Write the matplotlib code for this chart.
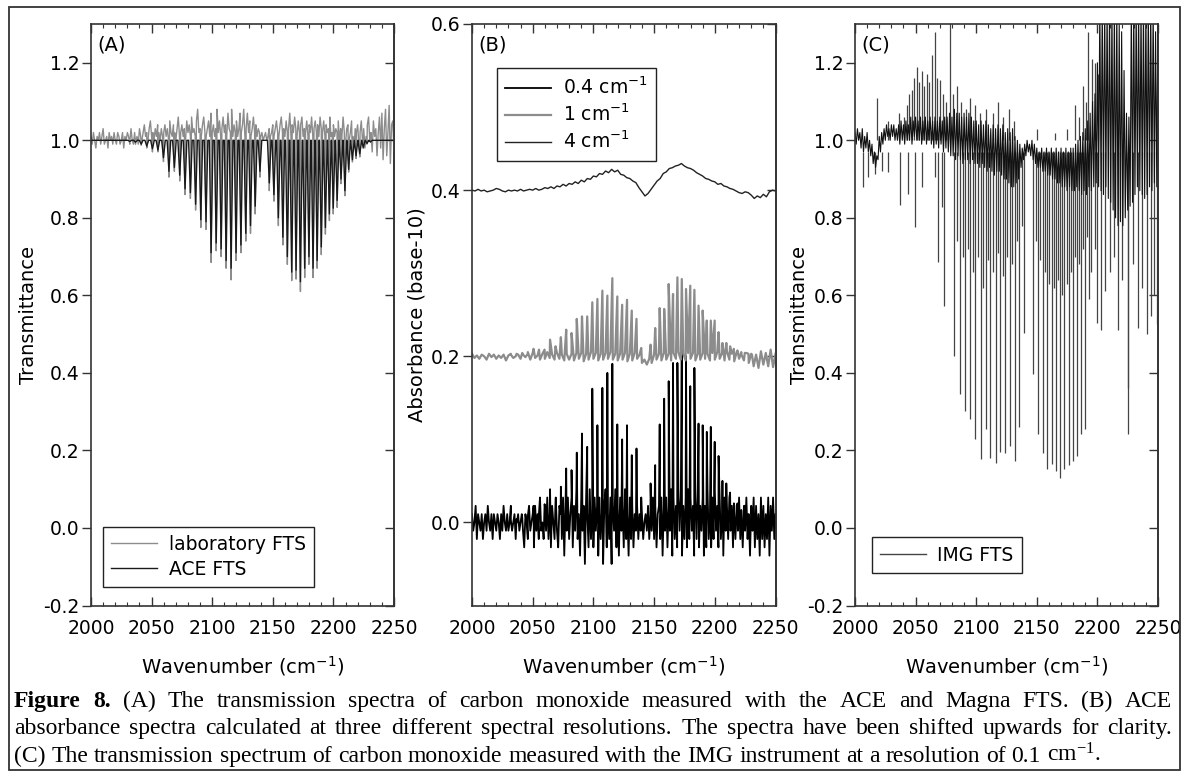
import numpy as np
import matplotlib
matplotlib.use('Agg')
import matplotlib.pyplot as plt
from matplotlib.ticker import MultipleLocator, FormatStrFormatter
from matplotlib.transforms import IdentityTransform
from matplotlib.patches import Rectangle

plt.rcParams['font.family'] = ['DejaVu Sans']
plt.rcParams['axes.unicode_minus'] = False

# CO fundamental band line positions (cm-1), P(1)..P(26) and R(0)..R(25)
p_lines = [2139.4, 2135.5, 2131.6, 2127.7, 2123.7, 2119.7, 2115.6, 2111.5, 2107.4, 2103.3,
           2099.1, 2094.9, 2090.6, 2086.3, 2082.0, 2077.6, 2073.2, 2068.8, 2064.3, 2059.8,
           2055.2, 2050.7, 2046.0, 2041.4, 2036.7, 2032.0]
r_lines = [2147.1, 2150.9, 2154.6, 2158.3, 2162.0, 2165.6, 2169.2, 2172.8, 2176.3, 2179.8,
           2183.2, 2186.6, 2190.0, 2193.4, 2196.7, 2199.9, 2203.1, 2206.3, 2209.5, 2212.6,
           2215.7, 2218.7, 2221.8, 2224.7, 2227.7, 2230.6]

# (A) line minima, laboratory FTS and ACE FTS
lab_p = [0.905, 0.81, 0.76, 0.74, 0.71, 0.69, 0.64, 0.67, 0.70, 0.715, 0.685, 0.77, 0.775,
         0.82, 0.85, 0.86, 0.895, 0.92, 0.905, 0.945, 0.97, 0.97, 0.98, 0.987, 0.99, 0.995]
lab_r = [0.87, 0.843, 0.78, 0.73, 0.68, 0.638, 0.642, 0.61, 0.646, 0.68, 0.646, 0.67, 0.705,
         0.758, 0.793, 0.81, 0.827, 0.888, 0.857, 0.918, 0.944, 0.953, 0.957, 0.979, 0.99, 0.995]
ace_p = [0.92, 0.83, 0.78, 0.76, 0.73, 0.71, 0.67, 0.69, 0.72, 0.735, 0.71, 0.79, 0.795,
         0.835, 0.865, 0.875, 0.91, 0.93, 0.92, 0.955, 0.975, 0.978, 0.985, 0.99, 0.995, 0.997]
ace_r = [0.89, 0.86, 0.80, 0.75, 0.70, 0.66, 0.665, 0.635, 0.67, 0.70, 0.67, 0.69, 0.725,
         0.775, 0.81, 0.825, 0.845, 0.90, 0.87, 0.925, 0.95, 0.96, 0.965, 0.982, 0.992, 0.996]
ace_level = 1.0
# lab FTS baseline, every 1 cm-1 from 2000, in hundredths above 1.0
lab_noise = [1, -1, 2, 0, -2, 1, 0, 2, -1, 1, 3, -1, 0, 1, -2, 2, 0, 1, -1, 2,
             0, -1, 2, 1, -1, 0, 2, -2, 1, 0, 2, 1, -1, 3, 0, -1, 2, 0, 1, -1,
             3, 1, 0, 2, 4, 1, 2, 0, 3, 5, 1, 2, 0, 3, 1, 4, 2, 0, 3, 1,
             2, 4, 1, 3, 0, 5, 2, 1, 4, 2, 0, 3, 6, 1, 2, 4, 1, 3, 0, 5,
             2, 4, 1, 6, 2, 3, 1, 5, 8, 2, 3, 1, 4, 6, 2, 1, 3, 5, 1, 7,
             2, 4, 1, 3, 8, 2, 5, 1, 3, 6, 2, 4, 1, 7, 3, 2, 8, 1, 4, 2,
             5, 1, 3, 7, 2, 4, 8, 1, 3, 7, 2, 5, 1, 3, 6, 2, 4, 1, 3, 2,
             1, 2, 0, 1, 2, 0, 1, 3, 1, 2, 4, 1, 3, 5, 2, 1, 4, 6, 2, 3,
             1, 5, 2, 3, 7, 1, 4, 2, 6, 3, 1, 5, 2, 4, 6, 1, 3, 2, 5, 1,
             4, 2, 6, 1, 3, 5, 2, 4, 1, 6, 3, 2, 5, 1, 4, 2, 3, 6, 1, 2,
             4, 1, 3, 2, 5, 0, 3, 1, 6, 2, -1, 3, 4, 0, 2, 5, 1, -2, 3, 2,
             4, -1, 2, 5, 0, 3, -2, 1, 4, 6, 0, 2, -3, 5, 1, 3, -4, 2, 6, -2,
             7, -5, 3, 8, -4, 2, 9, -6, 4, 5, -3]

# (B) absorbance peaks as plotted (1 cm-1 shifted +0.2)
b04_p = [0.030, 0.089, 0.081, 0.117, 0.100, 0.118, 0.191, 0.180, 0.162, 0.117, 0.161, 0.091, 0.107,
         0.084, 0.063, 0.065, 0.043, 0.025, 0.040, 0.022, 0.012, 0.020, 0.008, 0.006, 0.004, 0.003]
b04_r = [0.047, 0.069, 0.118, 0.149, 0.170, 0.192, 0.192, 0.212, 0.200, 0.164, 0.186, 0.119, 0.117,
         0.109, 0.115, 0.097, 0.080, 0.050, 0.047, 0.036, 0.023, 0.023, 0.015, 0.020, 0.010, 0.008]
b1_p = [0.210, 0.245, 0.255, 0.268, 0.262, 0.272, 0.294, 0.273, 0.279, 0.269, 0.265, 0.248, 0.248,
        0.245, 0.228, 0.232, 0.223, 0.212, 0.220, 0.208, 0.208, 0.209, 0.205, 0.204, 0.203, 0.202]
b1_r = [0.214, 0.234, 0.258, 0.257, 0.287, 0.275, 0.295, 0.293, 0.281, 0.285, 0.280, 0.261, 0.255,
        0.243, 0.243, 0.243, 0.229, 0.216, 0.216, 0.212, 0.209, 0.207, 0.205, 0.204, 0.203, 0.202]
b1_level = 0.2
# 0.4 cm-1 baseline every 1 cm-1, hundredths
b04_noise = [1, -1, 0, 2, -2, 1, 0, -1, 1, -2, 0, 1, -1, 2, 0, -1, 1, -2, 1, 0,
             -1, 1, 0, -2, 1, -1, 2, 0, -1, 1, -1, 0, 2, -1, 0, 1, -2, 0, 1, -1,
             0, 1, -1, -3, 1, 0, -2, 2, -1, 0, 1, -3, 2, -1, 1, -2, 3, -1, 0, -2,
             2, -1, 3, -2, 1, -3, 2, 0, -2, 3, -1, -3, 2, 1, -2, 3, -4, 2, -1, 3,
             -2, 1, 3, -3, 2, -1, 4, -2, 1, -4, 3, -1, 2, -5, 3, 1, -3, 4, -2, 1,
             -3, 3, -1, 2, -4, 3, -2, 1, -5, 2, 4, -3, 1, -2, 3, -5, 2, -1, 4, -3,
             2, -4, 3, -1, 2, -3, 4, -2, 1, -4, 3, -2, 2, -3, 1, -1, 2, -2, 1, -1,
             1, -2, 0, 1, -1, 2, -2, 1, -1, 3, -2, 2, -3, 1, 2, -2, 3, -4, 2, -1,
             3, -3, 2, -1, 4, -4, 3, -2, 2, -3, 4, -1, 3, -4, 2, -2, 3, -3, 4, -2,
             3, -1, 2, -4, 3, -2, 4, -3, 2, -1, 3, -4, 2, -3, 4, -2, 1, -3, 3, -2,
             4, -1, 2, -3, 3, -2, 1, -4, 3, -1, 2, -2, 3, -1, 2, -3, 1, -2, 2, -1,
             3, -2, 1, -3, 2, -1, 3, -2, 1, -4, 2, -1, 3, -3, 2, -2, 1, -4, 3, -2,
             2, -3, 1, -2, 3, -4, 2, -1, 3, -2, 1]
# 1 cm-1 baseline every 2 cm-1, thousandths
b1_noise = [3, -2, 1, -3, 2, 0, -4, 3, -1, 2, -3, 1, -2, 2, -5, 1, 3, -2, 0, 2,
            -3, 2, -1, 3, -4, 4, -2, 1, -4, 3, -3, 5, -2, 2, -4, 4, -3, 2, -5, 3,
            -4, 3, -5, 4, -3, 4, -6, 3, -4, 5, -3, 4, -5, 3, -4, 4, -3, 5, -4, 3,
            -5, 3, -4, 4, -6, 3, -5, 4, -3, 2, -8, -4, -10, -3, -8, 2, -4, 3, -5, 4,
            -4, 3, -5, 4, -3, 5, -4, 3, -5, 4, -3, 4, -5, 3, -4, 4, -3, 3, -5, 4,
            -4, 5, -3, 4, -5, 6, -4, 3, -6, 5, -3, 2, -5, 4, -8, 3, -12, 2, -14, 6,
            -10, 4, -12, 8, -13, 3]
# 4 cm-1 spectrum every 2.5 cm-1, thousandths above 0.4
b4_vals = [0, -1, 1, -1, 0, -2, -1, 0, 2, 1, -1, -2, 0, -1, 0, -1, 1, -1, 0, 1,
           0, 2, 0, 1, 3, 2, 4, 2, 5, 4, 7, 5, 8, 7, 10, 8, 12, 10, 14, 13,
           17, 16, 20, 19, 23, 21, 25, 22, 24, 19, 18, 15, 14, 11, 9, 3, -2, -7, -4, 1,
           6, 11, 14, 20, 22, 26, 27, 29, 30, 32, 29, 27, 26, 24, 21, 19, 17, 14, 13, 11,
           10, 7, 8, 5, 4, 2, 1, -1, -3, -4, -2, -3, -6, -10, -7, -9, -5, -8, -2, 0,
           -1]

# (C) IMG FTS trace extremes every 1 cm-1, hundredths of transmittance
c_trace = [102, 99, 103, 100, 102, 98, 103, 97, 101, 98, 102, 97, 100, 96, 99, 94, 97, 93, 96, 95,
           101, 97, 102, 99, 103, 100, 104, 101, 103, 100, 104, 101, 104, 100, 103, 100, 104, 99, 105, 100,
           104, 99, 105, 100, 104, 100, 106, 99, 105, 101, 106, 100, 105, 100, 106, 99, 105, 100, 106, 99,
           105, 100, 106, 99, 105, 98, 106, 99, 105, 98, 106, 99, 105, 97, 106, 98, 106, 97, 107, 96,
           106, 96, 108, 95, 107, 96, 107, 95, 106, 94, 107, 95, 106, 95, 107, 94, 106, 95, 105, 94,
           105, 94, 104, 93, 105, 94, 104, 93, 105, 92, 104, 93, 103, 92, 104, 91, 103, 92, 104, 92,
           103, 91, 104, 90, 102, 90, 103, 89, 102, 88, 103, 88, 101, 89, 100, 90, 99, 93, 98, 95,
           99, 96, 100, 97, 99, 96, 100, 95, 99, 94, 98, 93, 97, 93, 98, 92, 97, 92, 98, 91,
           97, 91, 98, 90, 97, 90, 98, 89, 97, 89, 98, 88, 97, 88, 98, 87, 97, 88, 98, 87,
           98, 87, 99, 88, 100, 87, 101, 86, 102, 87, 103, 86, 105, 88, 107, 87, 110, 88, 112, 89,
           120, 88, 135, 87, 135, 86, 135, 88, 135, 85, 135, 84, 135, 82, 135, 80, 135, 78, 130, 79,
           128, 78, 118, 80, 107, 82, 106, 83, 135, 84, 135, 86, 135, 88, 135, 87, 135, 86, 135, 85,
           135, 86, 135, 88, 135, 87, 135, 89, 128, 88, 135]
# CO lines seen by IMG (position, minimum)
c_line_x = [2068.8, 2073.4, 2082.0, 2086.6, 2090.8, 2094.9, 2099.0, 2103.7, 2107.8, 2111.4, 2116.0,
            2119.6, 2123.8, 2127.9, 2132.0, 2135.6, 2139.7, 2147.1, 2150.7, 2154.8, 2158.4, 2162.3,
            2165.8, 2169.4, 2172.7, 2176.3, 2179.9, 2183.4, 2186.7, 2190.0, 2193.3]
c_line_tip = [0.685, 0.573, 0.444, 0.345, 0.303, 0.282, 0.229, 0.177, 0.255, 0.181, 0.168, 0.195,
              0.194, 0.211, 0.172, 0.260, 0.504, 0.397, 0.243, 0.194, 0.151, 0.165, 0.148, 0.128,
              0.151, 0.162, 0.172, 0.185, 0.243, 0.254, 0.590]
# other downward spikes
c_dn_x = [2006.9, 2011.0, 2016.5, 2022.0, 2027.5, 2037.1, 2044.0, 2049.5, 2055.0, 2066.0, 2071.5,
          2084.5, 2088.7, 2092.9, 2097.0, 2101.2, 2105.4, 2109.6, 2113.6, 2117.8, 2121.8, 2125.8,
          2129.8, 2133.6, 2137.6, 2149.0, 2152.8, 2156.6, 2160.3, 2164.0, 2167.6, 2171.0, 2174.6,
          2178.1, 2181.6, 2185.0, 2188.4, 2191.7, 2195.0, 2198.3, 2199.4, 2203.0, 2206.3, 2210.0,
          2213.5, 2216.7, 2220.0, 2225.0, 2225.5, 2229.5, 2233.8, 2237.0, 2240.6, 2244.2, 2247.0,
          2248.9]
c_dn_tip = [0.879, 0.905, 0.914, 0.922, 0.918, 0.832, 0.862, 0.776, 0.879, 0.905, 0.827,
            0.74, 0.70, 0.72, 0.66, 0.70, 0.62, 0.69, 0.66, 0.71, 0.65, 0.70,
            0.68, 0.74, 0.78, 0.74, 0.69, 0.66, 0.63, 0.62, 0.64, 0.60, 0.63,
            0.66, 0.70, 0.68, 0.72, 0.75, 0.66, 0.72, 0.53, 0.51, 0.61, 0.66,
            0.70, 0.51, 0.64, 0.243, 0.36, 0.68, 0.516, 0.62, 0.50, 0.547, 0.60,
            0.525]
# upward spikes
c_up_x = [2017.9, 2027.5, 2036.0, 2040.5, 2042.6, 2044.8, 2046.8, 2049.0, 2050.9, 2053.0,
          2055.0, 2057.0, 2059.1, 2061.0, 2063.3, 2066.0, 2068.0, 2070.1, 2072.5, 2075.0,
          2078.4, 2081.0, 2083.9, 2087.5, 2091.5, 2094.9, 2099.0, 2103.0, 2108.0, 2113.5,
          2118.3, 2122.0, 2127.1, 2131.0, 2149.9, 2165.0, 2175.0, 2181.5, 2184.5, 2188.4,
          2190.5, 2192.5, 2195.3, 2198.0, 2200.5]
c_up_tip = [1.11, 1.05, 1.07, 1.06, 1.09, 1.12, 1.13, 1.16, 1.19, 1.15,
            1.18, 1.14, 1.17, 1.15, 1.22, 1.28, 1.16, 1.155, 1.12, 1.10,
            1.35, 1.12, 1.14, 1.10, 1.08, 1.11, 1.09, 1.07, 1.08, 1.07,
            1.10, 1.06, 1.08, 1.05, 1.03, 1.02, 1.03, 1.09, 1.06, 1.14,
            1.10, 1.28, 1.21, 1.20, 1.17]
c_dn_from = 0.97
c_up_from = 1.0

caption = [
    [("Figure", True), ("8.", True)] + [(w, False) for w in
        "(A) The transmission spectra of carbon monoxide measured with the ACE and Magna FTS. (B) ACE".split()],
    [(w, False) for w in
        "absorbance spectra calculated at three different spectral resolutions. The spectra have been shifted upwards for clarity.".split()],
    [(w, False) for w in
        r"(C) The transmission spectrum of carbon monoxide measured with the IMG instrument at a resolution of 0.1 cm$\mathdefault{^{-1}}$.".split()],
]


def merge(grid, base, centers, tips):
    x = np.concatenate([grid, np.asarray(centers, float)])
    y = np.concatenate([base, np.asarray(tips, float)])
    order = np.argsort(x, kind='stable')
    return x[order], y[order]


W, H = 1187, 779
fig = plt.figure(figsize=(W / 100, H / 100), dpi=100)


def box(l, t, r, b):
    return [l / W, 1 - b / H, (r - l) / W, (b - t) / H]


axA = fig.add_axes(box(91, 24, 394, 605.5))
axB = fig.add_axes(box(472, 24, 775.5, 605.5))
axC = fig.add_axes(box(855, 24, 1158, 605.5))


def style(ax, ylim, ylabel, ylab_x, letter):
    ax.set_xlim(2000, 2250)
    ax.set_ylim(*ylim)
    ax.xaxis.set_major_locator(MultipleLocator(50))
    ax.xaxis.set_minor_locator(MultipleLocator(10))
    ax.yaxis.set_major_locator(MultipleLocator(0.2))
    ax.yaxis.set_major_formatter(FormatStrFormatter('%.1f'))
    ax.tick_params(axis='x', which='both', direction='in', top=True, color='#333333')
    ax.tick_params(axis='x', which='major', length=6.5, width=1.0, pad=10, labelsize=13.5)
    ax.tick_params(axis='x', which='minor', length=3, width=0.8)
    ax.tick_params(axis='y', which='major', direction='out', length=6.5, width=1.0, pad=2,
                   labelsize=13.5, color='#333333')
    for s in ax.spines.values():
        s.set_linewidth(1.2)
        s.set_color('#333333')
    right = ax.secondary_yaxis('right')
    right.yaxis.set_major_locator(MultipleLocator(0.2))
    right.tick_params(direction='in', length=6.5, width=1.0, labelright=False, color='#333333')
    right.spines['right'].set_linewidth(1.2)
    right.spines['right'].set_color('#333333')
    ax.set_xlabel('Wavenumber (cm$^{-1}$)', fontsize=14)
    ax.xaxis.set_label_coords(0.5, -0.083)
    ax.set_ylabel(ylabel, fontsize=14)
    ax.yaxis.set_label_coords(ylab_x, 0.5)
    ax.text(0.022, 0.981, letter, transform=ax.transAxes, ha='left', va='top', fontsize=14)


def legend(ax, anchor, loc):
    leg = ax.legend(loc=loc, bbox_to_anchor=anchor, borderaxespad=0, frameon=True, fancybox=False,
                    edgecolor='#222222', framealpha=1, fontsize=13.5, handlelength=2.45,
                    handletextpad=0.6, labelspacing=0.3, borderpad=0.45)
    leg.get_frame().set_linewidth(1.0)


grid1 = 2000 + 1.0 * np.arange(len(lab_noise))

# ---- (A)
xa, ya = merge(grid1, 1.0 + np.array(lab_noise) / 100.0, p_lines + r_lines, lab_p + lab_r)
axA.plot(xa, ya, color='#8c8c8c', lw=1.0, label='laboratory FTS')
xs, ys = [2000.0], [ace_level]
for c, d in sorted(zip(p_lines + r_lines, ace_p + ace_r)):
    xs += [c - 1.5, c, c + 1.5]
    ys += [ace_level, d, ace_level]
xs.append(2250.0)
ys.append(ace_level)
axA.plot(xs, ys, color='#1a1a1a', lw=1.0, label='ACE FTS')
style(axA, (-0.2, 1.3), 'Transmittance', -0.176, '(A)')
legend(axA, (0.0396, 0.0318), 'lower left')

# ---- (B)
grid2 = 2000 + 2.0 * np.arange(len(b1_noise))
x04, y04 = merge(grid1, np.array(b04_noise) / 100.0, p_lines + r_lines, b04_p + b04_r)
x1, y1 = merge(grid2, b1_level + np.array(b1_noise) / 1000.0, p_lines + r_lines, b1_p + b1_r)
grid25 = 2000 + 2.5 * np.arange(len(b4_vals))
axB.plot(x04, y04, color='black', lw=1.3, label='0.4 cm$^{-1}$')
axB.plot(x1, y1, color='#8c8c8c', lw=1.6, label='1 cm$^{-1}$')
axB.plot(grid25, 0.4 + np.array(b4_vals) / 1000.0, color='#222222', lw=1.0, label='4 cm$^{-1}$')
style(axB, (-0.1, 0.6), 'Absorbance (base-10)', -0.150, '(B)')
legend(axB, (0.0825, 0.924), 'upper left')

# ---- (C)
axC.vlines(c_dn_x, c_dn_tip, c_dn_from, color='#444444', lw=0.9)
axC.vlines(c_up_x, c_up_from, c_up_tip, color='#444444', lw=0.9)
axC.vlines(c_line_x, c_line_tip, c_dn_from, color='#444444', lw=0.9)
axC.plot(2000 + np.arange(len(c_trace)), np.array(c_trace) / 100.0, color='#111111', lw=0.8)
axC.plot([], [], color='#444444', lw=1.0, label='IMG FTS')
style(axC, (-0.2, 1.3), 'Transmittance', -0.153, '(C)')
legend(axC, (0.055, 0.0559), 'lower left')

# ---- caption and frame
fig.add_artist(Rectangle((9, H - 770), 1171, 763, transform=IdentityTransform(), fill=False,
                         edgecolor='#333333', lw=1.3))
renderer = fig.canvas.get_renderer()
baselines = [707, 734, 762]
for i, (words, y) in enumerate(zip(caption, baselines)):
    texts = [fig.text(0, H - y, w, transform=IdentityTransform(), family='Liberation Serif',
                      fontsize=17, fontweight='bold' if b else 'normal', va='baseline')
             for w, b in words]
    widths = [t.get_window_extent(renderer).width for t in texts]
    if i < len(caption) - 1:
        gap = (1172 - 14 - sum(widths)) / (len(texts) - 1)
    else:
        gap = 17 * 0.25 * 100 / 72
    x = 14
    for t, w in zip(texts, widths):
        t.set_x(x)
        x += w + gap

fig.savefig('out.png', dpi=100, facecolor='white')
